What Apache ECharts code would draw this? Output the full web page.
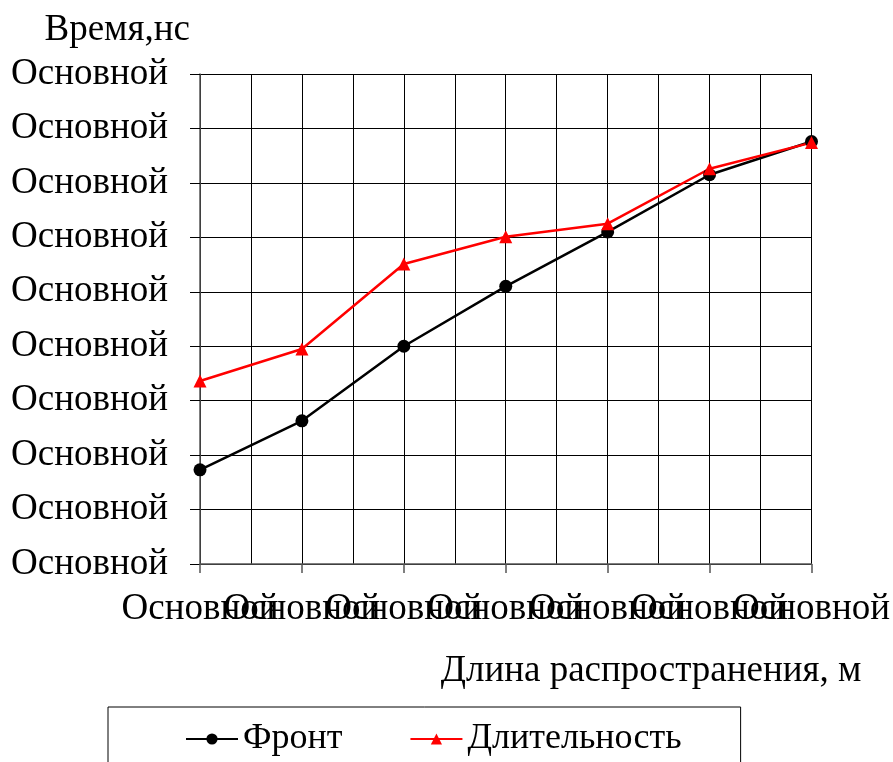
<!DOCTYPE html>
<html><head><meta charset="utf-8">
<script src="https://cdn.jsdelivr.net/npm/echarts@6/dist/echarts.min.js"></script>
<style>html,body{margin:0;padding:0;background:#fff}#c{width:893px;height:762px}</style>
</head><body><div id="c"></div>
<script>
const xTickLabels = ['Основной','Основной','Основной','Основной','Основной','Основной','Основной'];
const yTickLabel = 'Основной';
const frontValues = [1.73, 2.63, 4.0, 5.1, 6.1, 7.15, 7.76];
const durationValues = [3.36, 3.95, 5.51, 6.01, 6.25, 7.26, 7.74];
const seriesNames = ['Фронт', 'Длительность'];

const font = "'Liberation Serif', 'Times New Roman', 'DejaVu Serif', serif";
const fs = 37;
const chart = echarts.init(document.getElementById('c'), null, {renderer: 'canvas'});
chart.setOption({
  backgroundColor: '#fff',
  animation: false,
  textStyle: {fontFamily: font, color: '#000'},
  grid: {left: 200, right: 81, top: 74, bottom: 198, containLabel: false},
  legend: {
    left: 108, top: 707,
    padding: [14, 59, 30, 77],
    borderColor: '#000', borderWidth: 1,
    itemWidth: 52, itemHeight: 14, itemGap: 67,
    textStyle: {fontFamily: font, fontSize: 36, color: '#000'},
    data: seriesNames
  },
  xAxis: [
    {
      type: 'category', boundaryGap: false, position: 'bottom',
      data: xTickLabels.map((s, i) => ({value: String(i), label: s})),
      name: 'Длина распространения, м',
      nameLocation: 'end', nameGap: 50,
      nameTextStyle: {fontFamily: font, fontSize: fs, color: '#000', align: 'right', verticalAlign: 'top', padding: [89, 0, 0, 0]},
      axisLine: {show: true, lineStyle: {color: '#555', width: 1.5}},
      axisTick: {show: true, inside: false, length: 9, interval: 0, lineStyle: {color: '#555', width: 1.5}},
      axisLabel: {fontFamily: font, fontSize: fs, color: '#000', margin: 27, interval: 0,
        formatter: (v, i) => xTickLabels[i]},
      splitLine: {show: false}
    },
    {
      type: 'value', min: 0, max: 6, interval: 1, position: 'bottom',
      axisLine: {show: false}, axisTick: {show: false}, axisLabel: {show: false},
      splitLine: {show: true, lineStyle: {color: '#000', width: 1}},
      minorTick: {show: false, splitNumber: 2},
      minorSplitLine: {show: true, lineStyle: {color: '#000', width: 1}}
    }
  ],
  yAxis: {
    type: 'value', min: 0, max: 9, interval: 1,
    name: 'Время,нс',
    nameLocation: 'end', nameGap: 44,
    nameTextStyle: {fontFamily: font, fontSize: fs, color: '#000', align: 'right', verticalAlign: 'middle', padding: [0, 10, 0, 0]},
    axisLine: {show: true, lineStyle: {color: '#555', width: 1.5}},
    axisTick: {show: true, inside: false, length: 10, lineStyle: {color: '#000', width: 1}},
    axisLabel: {fontFamily: font, fontSize: fs, color: '#000', margin: 32, padding: [4, 0, 0, 0],
      showMinLabel: true, showMaxLabel: true, formatter: () => yTickLabel},
    splitLine: {show: true, lineStyle: {color: '#000', width: 1}}
  },
  series: [
    {
      name: seriesNames[0], type: 'line', xAxisIndex: 0,
      data: frontValues,
      symbol: 'circle', symbolSize: 13,
      lineStyle: {color: '#000', width: 2.5},
      itemStyle: {color: '#000'}
    },
    {
      name: seriesNames[1], type: 'line', xAxisIndex: 0,
      data: durationValues,
      symbol: 'triangle', symbolSize: 13,
      lineStyle: {color: '#ff0000', width: 2.5},
      itemStyle: {color: '#ff0000'}
    }
  ]
});
</script></body></html>
